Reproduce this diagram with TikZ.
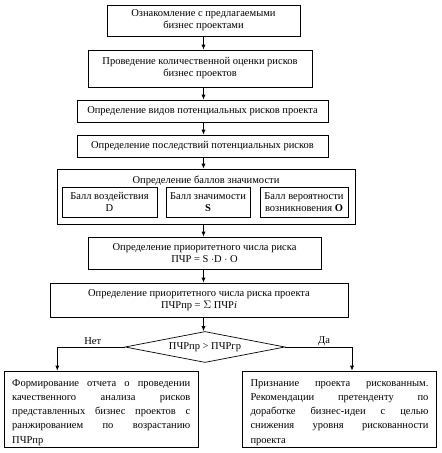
\documentclass[tikz,border=0pt]{standalone}
\usepackage{fontspec}
\setmainfont{Liberation Serif}
\usetikzlibrary{shapes.geometric,arrows.meta}
\newcommand{\jtext}[1]{\parbox[c][76pt][t]{178pt}{\fontsize{10.5}{14.3}\selectfont\hyphenpenalty=10000\tolerance=9999\rule{0pt}{15pt}#1}}
\begin{document}
\begin{tikzpicture}[x=1pt,y=-1pt,
  font=\fontsize{10.5}{12}\selectfont,
  box/.style={draw, line width=0.7pt, inner sep=0pt, align=center},
  arr/.style={-{Latex[length=5pt,width=4pt]}, line width=0.7pt},
  txt/.style={inner sep=0pt, align=center},
  jbox/.style={draw, line width=0.7pt, inner xsep=7.75pt, inner ysep=0pt, anchor=north}]
\useasboundingbox (0,0) rectangle (442,453);
\node[box, minimum width=193pt, minimum height=31pt] (b1) at (203.5,20.5) {Ознакомление с предлагаемыми\\бизнес проектами};
\node[box, minimum width=224pt, minimum height=37pt] (b2) at (200,68.5) {Проведение количественной оценки рисков\\бизнес проектов};
\node[box, minimum width=251pt, minimum height=22pt] (b3) at (202.5,111) {Определение видов потенциальных рисков проекта};
\node[box, minimum width=251pt, minimum height=22pt] (b4) at (202.5,146) {Определение последствий потенциальных рисков};
\node[box, minimum width=298pt, minimum height=55pt] (b5) at (206,196.5) {};
\node[txt] (b5t) at (206,180.5) {Определение баллов значимости};
\node[box, minimum width=95pt, minimum height=30pt] (d) at (109.5,202) {Балл воздействия\\D};
\node[box, minimum width=84pt, minimum height=30pt] (s) at (208,202) {Балл значимости\\\textbf{S}};
\node[box, minimum width=88pt, minimum height=30pt] (o) at (304,202) {Балл вероятности\\возникновения \textbf{O}};
\node[box, minimum width=233pt, minimum height=32pt] (b6) at (204.5,253) {Определение приоритетного числа риска\\ПЧР = S $\cdot$D $\cdot$ O};
\node[box, minimum width=298pt, minimum height=34pt] (b7) at (199,300) {Определение приоритетного числа риска проекта\\ПЧРпр = $\Sigma$ ПЧР\textit{i}};
\node[box, shape=diamond, aspect=5.16, minimum width=160pt, minimum height=31pt] (dia) at (205,347) {ПЧРпр > ПЧРгр};
\node[jbox] (lb) at (101.25,370.7) {\jtext{Формирование отчета о проведении\linebreak качественного анализа рисков\linebreak представленных бизнес проектов с\linebreak ранжированием по возрастанию\linebreak ПЧРпр}};
\node[jbox] (rb) at (339.5,370.7) {\jtext{Признание проекта рискованным.\linebreak Рекомендации претенденту по\linebreak доработке бизнес-идеи с целью\linebreak снижения уровня рискованности\linebreak проекта}};
\coordinate (lc) at (57.3,347);
\coordinate (rc) at (352,347);
\node[txt] (no) at (92.7,341) {Нет};
\node[txt] (yes) at (324,341) {Да};
\draw[arr] (b1.south) -- (b1.south |- b2.north);
\draw[arr] (b2.south -| b1.south) -- (b1.south |- b3.north);
\draw[arr] (b3.south -| b1.south) -- (b1.south |- b4.north);
\draw[arr] (b4.south -| b1.south) -- (b1.south |- b5.north);
\draw[arr] (b5.south -| b1.south) -- (b1.south |- b6.north);
\draw[arr] (b6.south -| b1.south) -- (b1.south |- b7.north);
\draw[arr] (b7.south -| b1.south) -- (b1.south |- dia.north);
\draw[line width=0.7pt] (dia.west) -- (lc);
\draw[arr] (lc) -- (lc |- lb.north);
\draw[line width=0.7pt] (dia.east) -- (rc);
\draw[arr] (rc) -- (rc |- rb.north);
\end{tikzpicture}
\end{document}
